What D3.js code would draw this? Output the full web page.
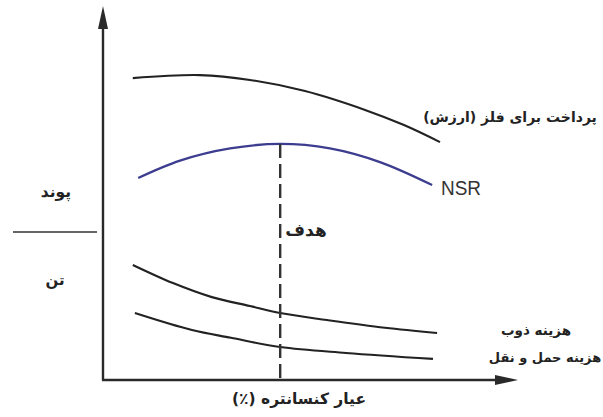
<!DOCTYPE html>
<html>
<head>
<meta charset="utf-8">
<script src="https://cdn.jsdelivr.net/npm/d3@7"></script>
<style>
  html, body { margin: 0; padding: 0; background: #fff; }
  svg { display: block; }
  .fa { font-family: "DejaVu Sans", "Noto Sans", sans-serif; font-weight: bold; fill: #222; }
</style>
</head>
<body>
<svg id="chart" width="603" height="417"></svg>
<script>
// Concentrate grade (%) on x, relative value on y (both 0–100, unitless)
const paymentGrade = [7.2, 23.4, 35.5, 48.8, 63.3, 72.7, 81.4];
const paymentValue = [81.6, 82.4, 81.1, 78.1, 73.0, 68.9, 64.3];

const nsrGrade = [8.5, 18.6, 30.7, 42.8, 54.8, 66.9, 79.5];
const nsrValue = [54.6, 59.3, 62.6, 63.8, 62.6, 58.9, 52.7];

const smeltGrade = [7.2, 16.9, 26.3, 35.5, 42.8, 54.1, 68.1, 80.7];
const smeltValue = [31.1, 26.2, 22.4, 20.0, 18.1, 16.2, 14.1, 12.7];

const freightGrade = [7.7, 21.5, 30.9, 42.8, 58.7, 79.7];
const freightValue = [18.1, 13.5, 11.4, 8.9, 7.3, 5.7];

// Grade that maximises NSR
const targetGrade = 42.8;
const targetValue = 63.8;

// Labels
const paymentLabel = "پرداخت برای فلز (ارزش)";
const nsrLabel = "NSR";
const smeltLabel = "هزینه ذوب";
const freightLabel = "هزینه حمل و نقل";
const targetLabel = "هدف";
const xTitle = "عیار کنسانتره (٪)";
const unitTop = "پوند";
const unitBottom = "تن";
const unitDivider = 40; // value level of the پوند / تن divider

const svg = d3.select("#chart");

const x = d3.scaleLinear().domain([0, 100]).range([103, 517]);
const y = d3.scaleLinear().domain([0, 100]).range([380, 10]);

const toPts = (gs, vs) => gs.map((g, i) => [g, vs[i]]);
const line = d3.line()
  .x(d => x(d[0]))
  .y(d => y(d[1]))
  .curve(d3.curveCatmullRom.alpha(0.5));

// Axes (plain lines with arrow heads, no ticks)
const axisColor = "#2a2a2a";
svg.append("line")
  .attr("x1", x(0)).attr("y1", y(0))
  .attr("x2", x(0)).attr("y2", y(100) + 16)
  .attr("stroke", axisColor).attr("stroke-width", 2.4);
svg.append("line")
  .attr("x1", x(0) - 1).attr("y1", y(0))
  .attr("x2", x(100) - 18).attr("y2", y(0))
  .attr("stroke", axisColor).attr("stroke-width", 2.4);

// arrow heads
svg.append("path")
  .attr("d", `M${x(0)},${y(100) - 4} L${x(0) + 5},${y(100) + 19} L${x(0) - 5},${y(100) + 19} Z`)
  .attr("fill", axisColor);
svg.append("path")
  .attr("d", `M${x(100) + 1},${y(0)} L${x(100) - 22},${y(0) - 5} L${x(100) - 22},${y(0) + 5} Z`)
  .attr("fill", axisColor);

// Unit divider on the left of the y axis
svg.append("line")
  .attr("x1", 13).attr("x2", x(0) - 6)
  .attr("y1", y(unitDivider)).attr("y2", y(unitDivider))
  .attr("stroke", "#333").attr("stroke-width", 1.3);

// Curves
svg.append("path")
  .datum(toPts(paymentGrade, paymentValue))
  .attr("d", line)
  .attr("fill", "none").attr("stroke", "#222").attr("stroke-width", 2.1);

svg.append("path")
  .datum(toPts(nsrGrade, nsrValue))
  .attr("d", line)
  .attr("fill", "none").attr("stroke", "#3d3d90").attr("stroke-width", 2.3);

svg.append("path")
  .datum(toPts(smeltGrade, smeltValue))
  .attr("d", line)
  .attr("fill", "none").attr("stroke", "#222").attr("stroke-width", 2.1);

svg.append("path")
  .datum(toPts(freightGrade, freightValue))
  .attr("d", line)
  .attr("fill", "none").attr("stroke", "#222").attr("stroke-width", 2.1);

// Target grade marker
svg.append("line")
  .attr("x1", x(targetGrade)).attr("x2", x(targetGrade))
  .attr("y1", y(targetValue)).attr("y2", y(0) + 2)
  .attr("stroke", "#333").attr("stroke-width", 2.4)
  .attr("stroke-dasharray", "14,6");

// Text labels
function faText(txt, cx, by, size) {
  return svg.append("text")
    .attr("class", "fa")
    .attr("x", cx).attr("y", by)
    .attr("text-anchor", "middle")
    .attr("direction", "rtl")
    .attr("font-size", size)
    .text(txt);
}

faText(paymentLabel, 510, 122, 14);
faText(smeltLabel, 536, 335, 13.5);
faText(freightLabel, 545, 362, 13);
faText(targetLabel, 306, 236, 17);
faText(xTitle, 299, 404, 15.5);
faText(unitTop, 56, 197, 15.5);
faText(unitBottom, 55, 285, 15);

svg.append("text")
  .attr("x", 441).attr("y", 195)
  .attr("font-family", "'Liberation Sans', Arial, sans-serif")
  .attr("font-size", 20)
  .attr("textLength", 40)
  .attr("lengthAdjust", "spacingAndGlyphs")
  .attr("fill", "#333")
  .text(nsrLabel);
</script>
</body>
</html>
